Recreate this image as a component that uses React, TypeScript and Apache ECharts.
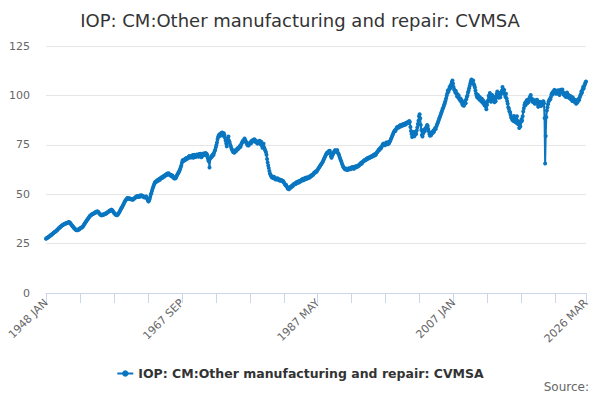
import React, { useRef, useEffect } from 'react'
import * as echarts from 'echarts'

const seriesName = 'IOP: CM:Other manufacturing and repair: CVMSA'
const startYear = 1948
const monthNames = ['JAN', 'FEB', 'MAR', 'APR', 'MAY', 'JUN', 'JUL', 'AUG', 'SEP', 'OCT', 'NOV', 'DEC']
const yTicks = [0, 25, 50, 75, 100, 125]

// monthly index values, one row per year
const values1948to1959 = [
  27.5, 27.7, 27.9, 28.1, 28.2, 28.5, 28.7, 28.9, 29.2, 29.4, 29.6, 29.9,
  30.1, 30.4, 30.6, 30.9, 31.0, 31.3, 31.5, 31.8, 32.0, 32.4, 32.7, 33.0,
  33.2, 33.5, 33.7, 34.0, 34.2, 34.4, 34.5, 34.8, 34.9, 35.1, 35.0, 35.3,
  35.4, 35.6, 35.5, 35.8, 35.9, 35.7, 35.4, 35.0, 34.6, 34.2, 33.9, 33.5,
  33.2, 32.8, 32.5, 32.2, 31.9, 32.0, 31.7, 31.9, 32.2, 32.0, 32.4, 32.6,
  32.8, 33.0, 33.2, 33.4, 33.6, 34.0, 34.5, 35.0, 35.4, 35.9, 36.3, 36.8,
  37.2, 37.6, 38.0, 38.5, 38.9, 39.2, 39.4, 39.6, 39.9, 40.1, 40.0, 40.3,
  40.5, 40.8, 40.6, 41.0, 41.2, 41.0, 41.3, 40.9, 40.5, 40.1, 39.8, 39.6,
  39.4, 39.3, 39.6, 39.5, 39.8, 39.7, 40.0, 40.2, 40.1, 40.4, 40.6, 40.9,
  41.0, 41.3, 41.5, 41.8, 41.6, 42.0, 42.2, 41.9, 41.5, 41.0, 40.6, 40.2,
  40.0, 39.7, 39.5, 39.4, 39.6, 39.8, 40.2, 40.8, 41.3, 41.9, 42.4, 43.0,
  43.4, 43.9, 44.5, 45.1, 45.8, 46.3, 46.8, 47.2, 47.5, 47.9, 48.1, 47.8
]
const values1960to1969 = [
  47.9, 47.6, 47.8, 47.4, 47.6, 47.3, 47.5, 47.2, 47.6, 47.8, 48.0, 48.3,
  48.5, 48.8, 49.0, 48.7, 49.1, 48.6, 48.9, 49.3, 48.8, 49.2, 49.5, 49.1,
  48.8, 49.0, 48.5, 48.7, 48.3, 48.6, 48.9, 48.2, 47.5, 46.8, 46.3, 46.8,
  47.5, 48.6, 49.8, 50.5, 51.6, 52.7, 53.5, 54.3, 55.2, 55.8, 56.3, 56.0,
  56.5, 56.9, 57.2, 56.8, 57.5, 57.8, 57.3, 58.0, 58.3, 58.6, 58.2, 58.8,
  59.0, 59.3, 58.9, 59.6, 59.8, 60.1, 59.7, 60.5, 60.2, 60.6, 60.0, 59.8,
  59.5, 59.8, 59.2, 58.9, 59.4, 58.6, 58.2, 57.9, 58.4, 58.0, 58.6, 59.2,
  59.8, 60.3, 60.9, 61.4, 62.0, 62.8, 63.6, 64.5, 65.8, 66.9, 67.3, 66.8,
  67.5, 67.2, 68.0, 67.6, 68.3, 67.9, 68.5, 68.2, 68.9, 69.3, 68.7, 69.1,
  68.6, 69.4, 69.0, 69.8, 68.5, 69.2, 69.9, 69.4, 68.8, 69.5, 70.1, 69.3
]
const values1970to1979 = [
  69.7, 68.9, 70.3, 69.6, 70.5, 69.8, 68.7, 70.2, 69.5, 70.6, 69.9, 70.4,
  70.0, 70.8, 69.6, 70.5, 69.8, 68.2, 67.0, 66.5, 63.5, 67.8, 68.5, 69.2,
  68.8, 69.5, 70.2, 69.8, 71.0, 71.8, 72.5, 73.8, 74.9, 76.2, 77.8, 79.0,
  79.6, 80.2, 79.4, 80.5, 80.9, 79.8, 81.2, 80.4, 79.6, 80.8, 79.9, 78.4,
  77.0, 75.6, 74.2, 76.0, 78.5, 79.2, 77.0, 76.3, 75.0, 74.3, 73.2, 72.6,
  72.0, 71.4, 71.8, 71.0, 71.5, 72.2, 71.7, 72.5, 73.0, 72.6, 73.5, 73.2,
  73.8, 74.5, 74.0, 75.2, 75.8, 76.4, 77.0, 76.5, 77.6, 78.2, 77.5, 76.8,
  76.2, 75.5, 74.8, 75.1, 74.6, 75.4, 75.9, 76.3, 75.7, 76.8, 77.2, 76.6,
  77.5, 76.9, 77.8, 77.2, 76.4, 77.0, 76.2, 75.6, 76.3, 75.8, 76.6, 77.1,
  76.0, 75.2, 76.5, 74.6, 73.5, 74.8, 75.5, 73.6, 72.8, 72.0, 71.2, 70.0
]
const values1980to1989 = [
  67.8, 66.0, 64.5, 63.2, 61.8, 60.5, 59.8, 59.2, 58.6, 58.9, 58.2, 58.5,
  58.8, 58.0, 57.6, 57.9, 57.4, 57.8, 58.1, 57.3, 57.6, 57.0, 57.4, 56.8,
  57.2, 56.9, 57.0, 56.4, 56.7, 56.0, 55.6, 55.0, 54.5, 54.8, 54.0, 53.5,
  52.8, 53.2, 52.5, 53.0, 53.6, 53.2, 54.0, 53.8, 54.5, 54.2, 54.9, 55.3,
  55.0, 55.6, 55.2, 56.0, 55.7, 56.3, 55.8, 56.5, 56.1, 56.8, 56.4, 57.0,
  57.3, 57.6, 56.9, 57.8, 57.2, 58.0, 57.5, 58.3, 57.7, 58.5, 57.9, 58.4,
  58.2, 58.8, 58.5, 59.2, 58.9, 59.6, 59.3, 60.0, 59.8, 60.5, 61.0, 60.7,
  61.2, 61.6, 61.3, 62.0, 62.5, 62.9, 63.4, 63.8, 64.3, 64.8, 65.2, 65.6,
  66.0, 66.6, 67.3, 67.9, 68.6, 69.2, 69.8, 70.5, 71.0, 70.6, 71.3, 71.8,
  71.5, 72.0, 70.8, 69.2, 68.5, 69.3, 70.0, 70.6, 71.2, 71.8, 72.3, 71.6
]
const values1990to1999 = [
  72.0, 71.5, 72.3, 71.0, 70.5, 69.8, 68.8, 68.0, 67.2, 66.5, 65.6, 64.8,
  64.0, 63.5, 63.2, 62.8, 62.5, 63.0, 62.6, 62.2, 62.8, 62.4, 63.1, 62.7,
  63.0, 62.6, 63.3, 63.6, 63.0, 63.8, 63.4, 62.9, 63.6, 64.0, 63.5, 64.2,
  63.8, 64.0, 64.5, 64.2, 64.8, 65.0, 65.5, 65.2, 66.0, 65.7, 66.3, 66.6,
  66.9, 67.2, 67.0, 67.6, 67.3, 68.0, 67.8, 68.3, 68.1, 68.6, 68.3, 68.8,
  68.7, 69.2, 68.9, 69.5, 69.2, 69.8, 70.1, 69.6, 70.3, 70.0, 70.8, 71.2,
  71.5, 72.0, 72.6, 72.3, 73.0, 73.5, 73.2, 74.0, 74.5, 75.2, 75.6, 75.0,
  75.4, 74.8, 75.6, 76.2, 75.5, 76.0, 75.3, 76.4, 75.8, 76.5, 77.0, 77.8,
  78.5, 79.2, 80.0, 80.6, 81.3, 81.8, 82.4, 82.0, 82.8, 83.5, 84.0, 83.6,
  84.2, 83.8, 84.5, 84.9, 84.3, 85.0, 84.6, 85.3, 84.8, 85.5, 85.1, 85.6
]
const values2000to2009 = [
  85.2, 86.0, 85.6, 86.3, 85.9, 86.6, 86.2, 87.0, 86.5, 84.0, 82.0, 80.5,
  79.0, 80.2, 81.5, 80.0, 79.3, 80.8, 81.6, 80.5, 82.3, 83.8, 85.5, 87.2,
  89.5, 90.5, 88.4, 85.0, 82.5, 80.0, 79.2, 80.6, 81.5, 82.8, 81.8, 83.0,
  83.5, 84.2, 85.0, 84.5, 83.0, 81.8, 80.5, 79.6, 80.2, 79.8, 80.8, 81.5,
  81.0, 82.2, 81.6, 82.8, 83.5, 83.0, 84.2, 85.0, 85.8, 86.5, 87.3, 88.2,
  89.0, 89.8, 90.6, 91.5, 92.3, 93.2, 93.8, 94.6, 95.5, 96.4, 97.3, 98.5,
  99.8, 101.0, 102.5, 101.8, 103.0, 104.2, 103.5, 105.0, 105.8, 106.8, 107.5, 106.0,
  104.2, 103.0, 102.6, 101.5, 102.2, 100.8, 99.5, 100.6, 98.9, 99.8, 98.2, 97.6,
  98.4, 96.8, 97.5, 95.6, 95.0, 96.3, 94.8, 95.8, 97.2, 96.0, 98.0, 99.2,
  100.0, 101.5, 102.3, 103.6, 104.8, 106.0, 107.2, 108.0, 107.0, 106.2, 107.5, 105.8
]
const values2010to2019 = [
  105.0, 104.0, 102.5, 101.0, 100.0, 99.0, 100.3, 98.6, 99.5, 97.8, 99.0, 98.2,
  97.0, 98.3, 96.5, 97.5, 95.8, 96.8, 94.9, 96.0, 94.3, 93.0, 95.2, 96.8,
  97.5, 99.8, 98.4, 101.2, 99.0, 96.8, 98.6, 100.2, 97.4, 99.5, 98.0, 96.5,
  98.2, 97.0, 99.5, 100.8, 102.0, 100.4, 98.8, 99.6, 101.2, 99.0, 100.5, 101.6,
  102.5, 104.3, 103.0, 101.5, 102.8, 100.6, 99.3, 100.8, 98.5, 97.2, 95.8, 94.0,
  93.2, 92.0, 91.5, 90.2, 89.0, 88.4, 87.5, 88.8, 87.0, 89.6, 88.2, 86.5,
  88.0, 86.2, 89.5, 87.0, 85.4, 86.8, 83.5, 85.0, 84.2, 86.5, 88.0, 87.2,
  89.5, 91.8, 93.5, 95.0, 96.2, 95.0, 96.8, 97.5, 96.0, 97.8, 96.5, 98.0,
  98.8, 99.5, 100.2, 98.6, 97.4, 96.8, 97.9, 96.5, 97.3, 95.8, 96.9, 97.5,
  96.2, 97.8, 95.5, 94.2, 96.0, 95.0, 96.8, 95.4, 94.6, 96.3, 95.5, 96.8
]
const values2020to2026 = [
  97.0, 96.0, 88.5, 65.5, 79.5, 89.0, 92.4, 94.0, 95.5, 96.8, 97.5, 98.2,
  98.0, 99.2, 100.5, 101.2, 100.4, 102.0, 101.5, 102.8, 101.6, 102.5, 100.8, 101.8,
  102.3, 101.0, 102.6, 101.4, 100.2, 101.8, 102.9, 101.5, 102.2, 103.0, 101.6, 100.5,
  101.2, 99.8, 100.6, 99.2, 100.9, 101.5, 99.6, 100.3, 98.8, 100.0, 99.0, 98.2,
  99.5, 98.0, 97.2, 99.0, 98.3, 96.9, 97.8, 96.5, 97.7, 95.8, 97.2, 96.4,
  97.0, 98.2, 97.6, 99.0, 99.8, 100.6, 102.0, 101.4, 103.0, 104.2, 103.5, 104.8,
  105.6, 106.5, 107.0
]

const values = [
  ...values1948to1959,
  ...values1960to1969,
  ...values1970to1979,
  ...values1980to1989,
  ...values1990to1999,
  ...values2000to2009,
  ...values2010to2019,
  ...values2020to2026
]

const months = values.map((_, i) => `${startYear + Math.floor(i / 12)} ${monthNames[i % 12]}`)
const lastIndex = months.length - 1

const App: React.FC = () => {
  const chartRef = useRef<HTMLDivElement>(null)

  useEffect(() => {
    if (!chartRef.current) return
    const chart = echarts.init(chartRef.current, null, { renderer: 'svg' })
    const font = 'DejaVu Sans, sans-serif'

    chart.setOption({
      animation: false,
      textStyle: { fontFamily: font },
      title: {
        text: seriesName,
        left: 'center',
        top: 6,
        textStyle: { color: '#333333', fontSize: 18, fontWeight: 'normal', fontFamily: font }
      },
      legend: {
        data: [seriesName],
        top: 362,
        left: 'center',
        itemWidth: 16,
        itemHeight: 8,
        textStyle: { color: '#333333', fontSize: 12.5, fontWeight: 'bold', fontFamily: font }
      },
      graphic: [
        {
          type: 'text',
          right: 11,
          top: 381,
          style: { text: 'Source:', fill: '#666666', font: `12px ${font}` }
        }
      ],
      grid: { left: 46, right: 14, top: 46, bottom: 107, containLabel: false },
      xAxis: {
        type: 'category',
        data: months,
        boundaryGap: false,
        axisLine: { lineStyle: { color: '#ccd6eb' } },
        axisTick: {
          alignWithLabel: true,
          length: 10,
          lineStyle: { color: '#ccd6eb' },
          interval: (i: number) => i % 59 === 0 || i === lastIndex
        },
        axisLabel: {
          rotate: 45,
          color: '#666666',
          fontSize: 11,
          margin: 8,
          interval: (i: number) => i % 236 === 0 || i === lastIndex
        },
        splitLine: { show: false }
      },
      yAxis: {
        type: 'value',
        min: yTicks[0],
        max: yTicks[yTicks.length - 1],
        interval: 25,
        axisLine: { show: false },
        axisTick: { show: false },
        axisLabel: { color: '#666666', fontSize: 11, margin: 16 },
        splitLine: { lineStyle: { color: '#e6e6e6' } }
      },
      series: [
        {
          name: seriesName,
          type: 'line',
          data: values,
          color: '#0a76c0',
          symbol: 'circle',
          symbolSize: 4,
          showAllSymbol: true,
          lineStyle: { width: 2, color: '#0a76c0' },
          itemStyle: { color: '#0a76c0' }
        }
      ]
    })

    return () => {
      chart.dispose()
    }
  }, [])

  return <div ref={chartRef} style={{ width: 600, height: 400, margin: -8 }} />
}

export default App
